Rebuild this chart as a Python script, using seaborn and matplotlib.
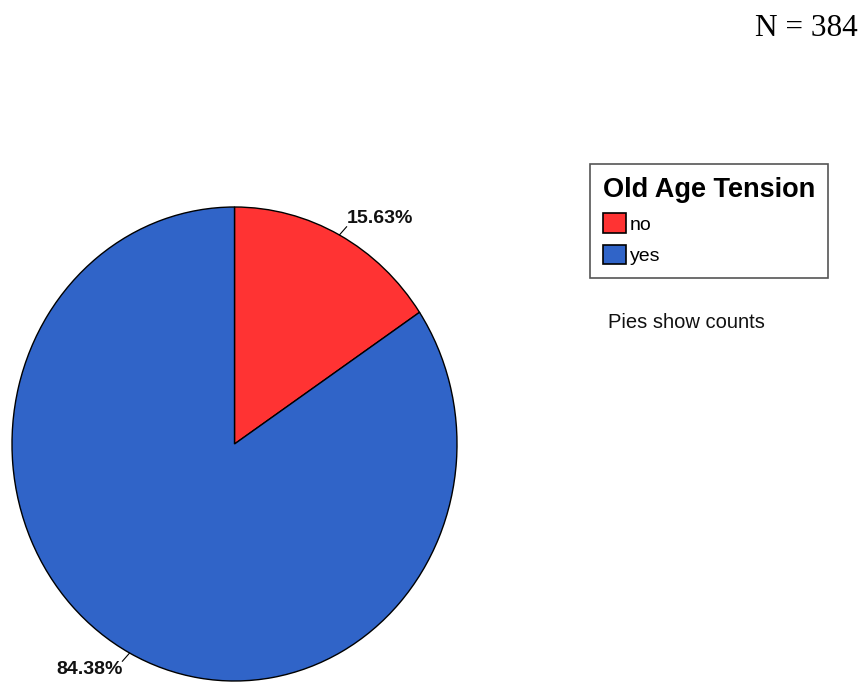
import numpy as np
import matplotlib
matplotlib.use("Agg")
import matplotlib.pyplot as plt
import seaborn as sns
from decimal import Decimal, ROUND_HALF_UP

# Data
categories = ["no", "yes"]
counts = [60, 324]
legend_title = "Old Age Tension"
note_text = "Pies show counts"
n_text = "N = 384"
colors = ["#FF3333", "#3064C8"]

sns.set_theme(style="white")
plt.rcParams["font.family"] = ["Liberation Sans", "DejaVu Sans"]
plt.rcParams["text.color"] = "black"

fig = plt.figure(figsize=(8.64, 6.85), dpi=100)
W, H = 864, 685
# pie area in pixels: x 12..457, y 207..681 (top origin)
ax = fig.add_axes([12 / W, (H - 681) / H, 445 / W, 474 / H])

total = sum(counts)
wedges, _ = ax.pie(counts, colors=colors, startangle=90, counterclock=False,
                   wedgeprops=dict(edgecolor="black", linewidth=1.0))
ax.set_aspect("auto")
ax.set_xlim(-1, 1)
ax.set_ylim(-1, 1)
ax.axis("off")

for w, c in zip(wedges, counts):
    ang = np.deg2rad((w.theta1 + w.theta2) / 2)
    x0, y0 = np.cos(ang), np.sin(ang)
    x1, y1 = 1.07 * x0, 1.04 * y0
    ax.plot([x0, x1], [y0, y1], color="black", lw=0.8, clip_on=False)
    ha = "left" if x0 > 0 else "right"
    va = "bottom" if y0 > 0 else "top"
    pct = Decimal(100 * c) / Decimal(total)
    pct = pct.quantize(Decimal("0.01"), rounding=ROUND_HALF_UP)
    ax.text(x1, y1, f"{pct}%", ha=ha, va=va,
            fontsize=14, fontweight="bold", color="#111111",
            family=["Liberation Sans Narrow", "Liberation Sans", "DejaVu Sans"],
            clip_on=False)

leg = fig.legend(wedges, categories, title=legend_title,
                 loc="upper left", bbox_to_anchor=(590 / W, 1 - 164 / H),
                 frameon=True, fancybox=False, fontsize=14,
                 title_fontproperties=dict(weight="bold", size=19.5),
                 alignment="left", handlelength=1.2, handleheight=1.2,
                 handletextpad=0.2, labelspacing=0.55, borderpad=0.65,
                 borderaxespad=0)
leg.get_frame().set_edgecolor("#555555")
leg.get_frame().set_linewidth(1.2)
leg.get_frame().set_alpha(1)
for p in leg.get_patches():
    p.set_edgecolor("black")
    p.set_linewidth(1.2)
for t in leg.get_texts():
    t.set_color("black")
leg.get_title().set_color("black")

fig.text(608 / W, 1 - 323 / H, note_text, ha="left", va="center", fontsize=14.5,
         color="#111111")
fig.text(858 / W, 1 - 28 / H, n_text, ha="right", va="center", fontsize=22.5,
         family=["Liberation Serif", "DejaVu Serif"], color="black")

fig.savefig("out.png", dpi=100, facecolor="white")
